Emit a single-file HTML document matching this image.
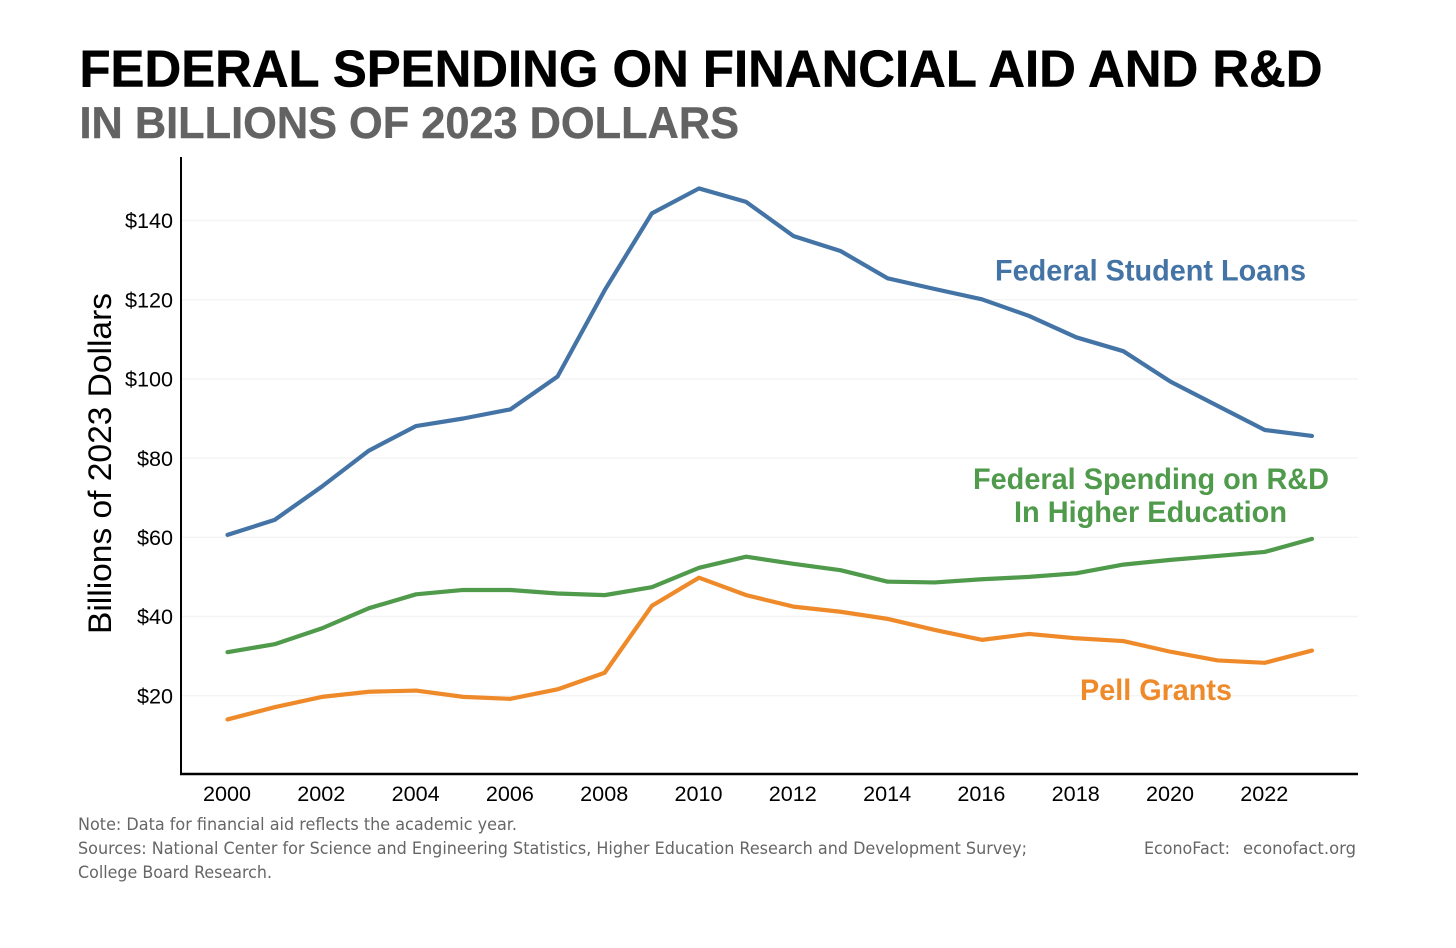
<!DOCTYPE html>
<html lang="en">
<head>
<meta charset="utf-8">
<title>Federal Spending on Financial Aid and R&amp;D</title>
<style>
  html, body { margin: 0; padding: 0; background: #fff; }
  svg { display: block; }
  text { font-family: "Liberation Sans", Arial, sans-serif; }
  .foot { font-family: "DejaVu Sans", sans-serif; font-size: 17px; fill: #666666; }
  .lbl { font-size: 29.5px; font-weight: bold; }
</style>
</head>
<body>
<svg id="chart" width="1456" height="948" viewBox="0 0 1456 948" xmlns="http://www.w3.org/2000/svg">
  <rect x="0" y="0" width="1456" height="948" fill="#ffffff"/>
  <text x="79.5" y="86.5" font-size="51.5" font-weight="bold" fill="#000" stroke="#000" stroke-width="0.5" textLength="1243" lengthAdjust="spacingAndGlyphs">FEDERAL SPENDING ON FINANCIAL AID AND R&amp;D</text>
  <text x="79.5" y="138" font-size="44.5" font-weight="bold" fill="#636363" stroke="#636363" stroke-width="0.4" textLength="659.5" lengthAdjust="spacingAndGlyphs">IN BILLIONS OF 2023 DOLLARS</text>
  <g id="grid"></g>
  <g id="yticks"></g>
  <g id="xticks"></g>
  <line x1="181" y1="157" x2="181" y2="775" stroke="#000" stroke-width="2"/>
  <line x1="180" y1="774" x2="1358" y2="774" stroke="#000" stroke-width="2.4"/>
  <text transform="translate(111,634) rotate(-90)" font-size="32" fill="#000" textLength="341" lengthAdjust="spacingAndGlyphs">Billions of 2023 Dollars</text>
  <g id="series"></g>
  <text class="lbl" x="995" y="280.5" fill="#4474a6" textLength="311" lengthAdjust="spacingAndGlyphs">Federal Student Loans</text>
  <text class="lbl" x="973" y="489" fill="#4f9a4b" textLength="356" lengthAdjust="spacingAndGlyphs">Federal Spending on R&amp;D</text>
  <text class="lbl" x="1014" y="522" fill="#4f9a4b" textLength="273" lengthAdjust="spacingAndGlyphs">In Higher Education</text>
  <text class="lbl" x="1080" y="700" fill="#ef8a2a" textLength="152" lengthAdjust="spacingAndGlyphs">Pell Grants</text>
  <text class="foot" x="78" y="830" textLength="439" lengthAdjust="spacingAndGlyphs">Note: Data for financial aid reflects the academic year.</text>
  <text class="foot" x="78" y="854" textLength="949" lengthAdjust="spacingAndGlyphs">Sources: National Center for Science and Engineering Statistics, Higher Education Research and Development Survey;</text>
  <text class="foot" x="78" y="878" textLength="194" lengthAdjust="spacingAndGlyphs">College Board Research.</text>
  <text class="foot" x="1144" y="854" textLength="86" lengthAdjust="spacingAndGlyphs">EconoFact:</text>
  <text class="foot" x="1243" y="854" textLength="113" lengthAdjust="spacingAndGlyphs">econofact.org</text>
</svg>
<script>
const years = [2000,2001,2002,2003,2004,2005,2006,2007,2008,2009,2010,2011,2012,2013,2014,2015,2016,2017,2018,2019,2020,2021,2022,2023];
const studentLoans = [60.6,64.4,72.8,81.9,88.1,90.0,92.3,100.6,122.4,141.8,148.1,144.7,136.1,132.3,125.4,122.7,120.1,115.9,110.5,107.0,99.3,93.2,87.1,85.6];
const researchSpending = [31.0,33.0,37.0,42.1,45.6,46.7,46.7,45.8,45.4,47.4,52.3,55.1,53.3,51.7,48.8,48.6,49.4,50.0,50.9,53.1,54.3,55.3,56.3,59.6];
const pellGrants = [14.0,17.1,19.7,21.0,21.3,19.7,19.2,21.6,25.8,42.7,49.8,45.4,42.5,41.2,39.4,36.6,34.1,35.6,34.5,33.8,31.1,28.9,28.3,31.4];
const yTickValues = [20,40,60,80,100,120,140];
const xTickValues = [2000,2002,2004,2006,2008,2010,2012,2014,2016,2018,2020,2022];

const SVG_NS = 'http://www.w3.org/2000/svg';
function xScale(year) { return 227.5 + (year - 2000) * 47.15; }
function yScale(value) { return 695.7 - (value - 20) * 3.96; }
function make(tag) { return document.createElementNS(SVG_NS, tag); }

const gridGroup = document.getElementById('grid');
const yTickGroup = document.getElementById('yticks');
yTickValues.forEach(function (v) {
  const gl = make('line');
  
  
  gl.setAttribute('x1', 182);
  gl.setAttribute('x2', 1358);
  gl.setAttribute('y1', yScale(v));
  gl.setAttribute('y2', yScale(v));
  gl.setAttribute('stroke', '#f4f4f4');
  gl.setAttribute('stroke-width', 1.4);
  gridGroup.appendChild(gl);

  const t = make('text');
  
  
  t.setAttribute('x', 173);
  t.setAttribute('y', yScale(v) + 7.7);
  t.setAttribute('text-anchor', 'end');
  t.setAttribute('font-size', 21.6);
  t.setAttribute('fill', '#000');
  t.textContent = '$' + v;
  yTickGroup.appendChild(t);
});

const xTickGroup = document.getElementById('xticks');
xTickValues.forEach(function (yr) {
  const t = make('text');
  
  
  t.setAttribute('x', xScale(yr) - 0.5);
  t.setAttribute('y', 801);
  t.setAttribute('text-anchor', 'middle');
  t.setAttribute('font-size', 21.6);
  t.setAttribute('fill', '#000');
  t.textContent = yr;
  xTickGroup.appendChild(t);
});

function drawSeries(values, color, name) {
  const p = make('polyline');
  
  
  p.setAttribute('points', values.map(function (v, i) {
    return xScale(years[i]).toFixed(2) + ',' + yScale(v).toFixed(2);
  }).join(' '));
  p.setAttribute('fill', 'none');
  p.setAttribute('stroke', color);
  p.setAttribute('stroke-width', 4.2);
  p.setAttribute('stroke-linejoin', 'round');
  p.setAttribute('stroke-linecap', 'round');
  document.getElementById('series').appendChild(p);
}
drawSeries(studentLoans, '#4474a6', 'line-federal-student-loans');
drawSeries(researchSpending, '#4f9a4b', 'line-federal-rd-spending');
drawSeries(pellGrants, '#ef8a2a', 'line-pell-grants');
</script>
</body>
</html>
